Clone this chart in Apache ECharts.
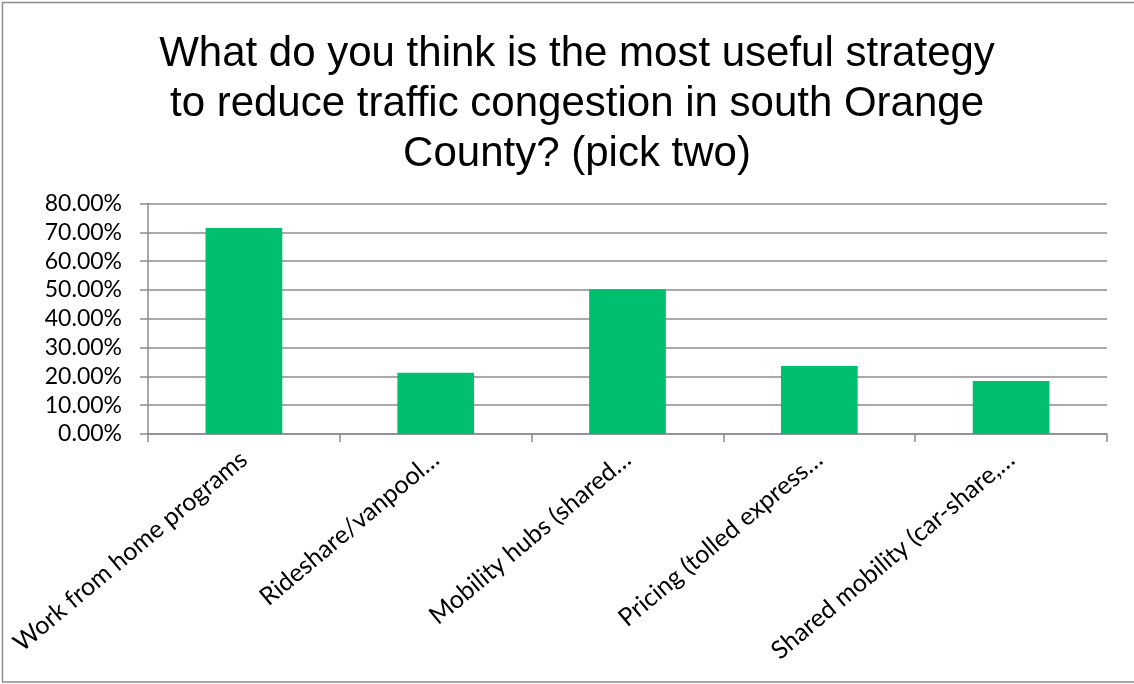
<!DOCTYPE html>
<html><head><meta charset="utf-8">
<script src="https://cdn.jsdelivr.net/npm/echarts@6/dist/echarts.min.js"></script>
<style>html,body{margin:0;padding:0;background:#fff}#c{width:1134px;height:684px}</style>
</head><body><div id="c"></div>
<script>
const titleText = "What do you think is the most useful strategy\nto reduce traffic congestion in south Orange\nCounty? (pick two)";
const categories = ["Work from home programs", "Rideshare/vanpool…", "Mobility hubs (shared…", "Pricing (tolled express…", "Shared mobility (car-share,…"];
const values = [0.715, 0.213, 0.502, 0.236, 0.184];
const yTicks = { min: 0, max: 0.8, interval: 0.1 };

const chart = echarts.init(document.getElementById('c'), null, { renderer: 'canvas' });
chart.setOption({
  animation: false,
  backgroundColor: '#fff',
  title: {
    text: titleText,
    left: 572, top: 24, textAlign: 'center',
    textStyle: { fontFamily: 'Liberation Sans', fontSize: 42, fontWeight: 'normal', color: '#000', lineHeight: 50 }
  },
  graphic: [{ type: 'rect', shape: { x: 2.5, y: 2.5, width: 1134, height: 679.5 }, style: { fill: 'none', stroke: '#8c8c8c', lineWidth: 1.5 }, silent: true }],
  grid: { left: 148, right: 27, top: 203.5, bottom: 250 },
  xAxis: {
    type: 'category', data: categories,
    axisLine: { show: true, lineStyle: { color: '#8c8c8c', width: 1.5 } },
    axisTick: { show: true, length: 8, lineStyle: { color: '#8c8c8c', width: 1.5 } },
    axisLabel: { rotate: 40, interval: 0, margin: 22, fontFamily: 'Lato', fontSize: 25, color: '#000' }
  },
  yAxis: {
    type: 'value', min: yTicks.min, max: yTicks.max, interval: yTicks.interval,
    axisLine: { show: true, lineStyle: { color: '#8c8c8c', width: 1.5 } },
    axisTick: { show: true, length: 8, lineStyle: { color: '#8c8c8c', width: 1.5 } },
    splitLine: { show: true, lineStyle: { color: '#8c8c8c', width: 1.5 } },
    axisLabel: { margin: 26, fontFamily: 'Lato', fontSize: 23, color: '#000', formatter: v => (v * 100).toFixed(2) + '%' }
  },
  series: [{
    type: 'bar', data: values, barWidth: '40%',
    itemStyle: { color: '#00BF6F' }
  }]
});
</script></body></html>
